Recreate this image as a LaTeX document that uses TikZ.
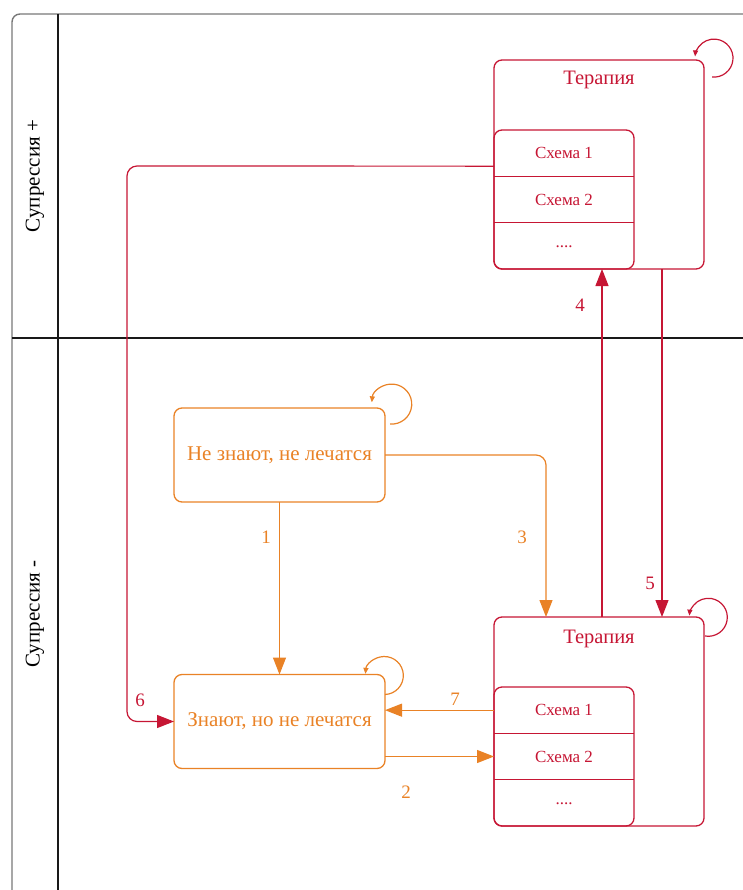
\documentclass[tikz,border=0pt]{standalone}
\usepackage{fontspec}
\setmainfont{LiberationSerif}[Extension=.ttf, UprightFont=*-Regular, BoldFont=*-Bold, ItalicFont=*-Italic]
\usetikzlibrary{arrows.meta,positioning}

\definecolor{stateorange}{RGB}{233,130,38}
\definecolor{therapyred}{RGB}{198,22,52}
\definecolor{poolgray}{RGB}{120,120,120}

\tikzset{
  state/.style={draw=stateorange, text=stateorange, line width=1.3pt, rounded corners=8pt,
    minimum width=211pt, minimum height=94pt, inner sep=0pt, outer sep=0pt,
    font=\rmfamily\fontsize{21}{24}\selectfont},
  therapy/.style={draw=therapyred, line width=1.3pt, rounded corners=8pt,
    minimum width=210pt, minimum height=209pt, inner sep=0pt, outer sep=0pt},
  schemalist/.style={draw=therapyred, line width=1.3pt, rounded corners=8pt,
    minimum width=140pt, minimum height=139pt, inner sep=0pt, outer sep=0pt},
  schemarow/.style={text=therapyred, minimum width=140pt, minimum height=46.33pt,
    inner sep=0pt, outer sep=0pt, font=\rmfamily\fontsize{17}{20}\selectfont},
  divider/.style={draw=therapyred, line width=1.1pt},
  therapytitle/.style={text=therapyred, font=\rmfamily\fontsize{20.5}{24}\selectfont},
  lane/.style={rotate=90, font=\rmfamily\fontsize{21}{24}\selectfont},
  numorange/.style={text=stateorange, font=\rmfamily\fontsize{19}{22}\selectfont},
  numred/.style={text=therapyred, font=\rmfamily\fontsize{19}{22}\selectfont},
  floworange/.style={draw=stateorange, line width=1.2pt, -{Triangle[length=17pt,width=13pt]}},
  flowred/.style={draw=therapyred, line width=1.2pt, -{Triangle[length=17pt,width=13pt]}},
  looporange/.style={draw=stateorange, line width=1.2pt, -{Triangle[length=6pt,width=5pt]}},
  loopred/.style={draw=therapyred, line width=1.2pt, -{Triangle[length=6pt,width=5pt]}},
}

\begin{document}
\begin{tikzpicture}[x=1pt, y=1pt]
  \useasboundingbox (0,0) rectangle (743,-890);
  \clip (0,0) rectangle (743,-890);

  % pool and lanes
  \draw[poolgray, line width=1.4pt, rounded corners=8pt] (760,-14) -- (12,-14) -- (12,-900);
  \draw[black!90, line width=1.3pt] (58,-14) -- (58,-900);
  \draw[black!90, line width=1.3pt] (12,-338) -- (760,-338);
  \node[lane] (laneplus) at (35,-176) {Супрессия +};
  \node[lane] (laneminus) at (35,-614) {Супрессия -};

  % states
  \node[state] (noKnow) at (279.5,-455) {\raisebox{-2pt}{Не знают, не лечатся}};
  \node[state] (know) at (279.5,-721.5) {\raisebox{-2pt}{Знают, но не лечатся}};

  % therapy, upper lane
  \node[therapy] (terTop) at (599,-164.5) {};
  \node[therapytitle] (terTopTitle) at (599,-80) {Терапия};
  \node[schemalist, anchor=south west] (lstTop) at (terTop.south west) {};
  \node[schemarow, anchor=north] (sTop1) at (lstTop.north) {Схема 1};
  \node[schemarow, below=0pt of sTop1] (sTop2) {Схема 2};
  \node[schemarow, below=0pt of sTop2] (sTop3) {\raisebox{-3pt}{....}};
  \draw[divider] (sTop1.south west) -- (sTop1.south east);
  \draw[divider] (sTop2.south west) -- (sTop2.south east);

  % therapy, lower lane
  \node[therapy] (terBot) at (599,-721.5) {};
  \node[therapytitle] (terBotTitle) at (599,-639) {Терапия};
  \node[schemalist, anchor=south west] (lstBot) at (terBot.south west) {};
  \node[schemarow, anchor=north] (sBot1) at (lstBot.north) {Схема 1};
  \node[schemarow, below=0pt of sBot1] (sBot2) {Схема 2};
  \node[schemarow, below=0pt of sBot2] (sBot3) {\raisebox{-3pt}{....}};
  \draw[divider] (sBot1.south west) -- (sBot1.south east);
  \draw[divider] (sBot2.south west) -- (sBot2.south east);

  % self loops
  \draw[looporange] ([shift={(5,-16)}]noKnow.north east) arc[start angle=-95, end angle=175, radius=20];
  \draw[looporange] ([shift={(0,-20)}]know.north east) arc[start angle=-88, end angle=175, radius=19];
  \draw[loopred] ([shift={(8,-17)}]terTop.north east) arc[start angle=-96, end angle=175, radius=19];
  \draw[loopred] ([shift={(1,-19)}]terBot.north east) arc[start angle=-100, end angle=175, radius=19];

  % transitions
  \draw[floworange] (noKnow.south) -- (know.north);
  \draw[floworange, rounded corners=10pt] (noKnow.east) -| ([xshift=-53pt]terBot.north);
  \draw[floworange] (sBot1.west) -- (sBot1.west -| know.east);
  \draw[floworange] (sBot2.west -| know.east) -- (sBot2.west);
  \draw[flowred] ([xshift=3pt]terBot.north) -- ([xshift=3pt]terTop.south);
  \draw[flowred] ([xshift=63pt]terTop.south) -- ([xshift=63pt]terBot.north);
  \draw[flowred, rounded corners=10pt] ([yshift=-13pt]sTop1.west) -- (127,-166) |- (know.west);

  % transition numbers
  \node[numorange] (n1) at (266,-537) {1};
  \node[numorange] (n2) at (406,-792) {2};
  \node[numorange] (n3) at (522,-537) {3};
  \node[numred] (n4) at (580,-305) {4};
  \node[numred] (n5) at (650,-583) {5};
  \node[numred] (n6) at (140,-700) {6};
  \node[numorange] (n7) at (455,-699) {7};
\end{tikzpicture}
\end{document}
